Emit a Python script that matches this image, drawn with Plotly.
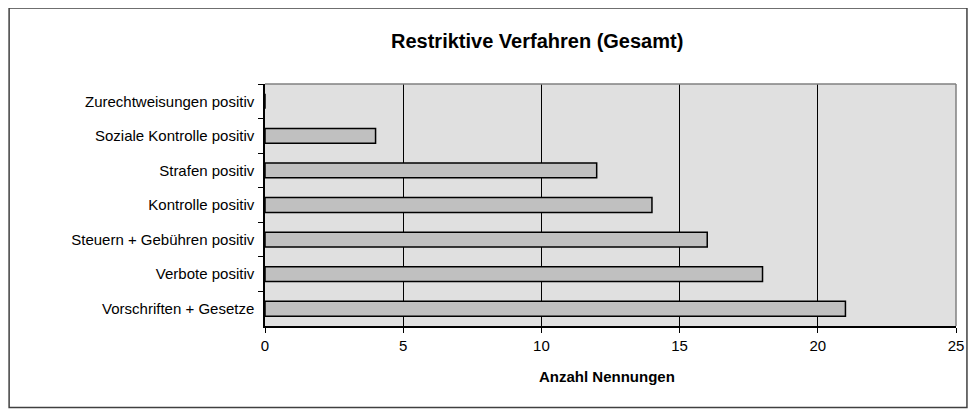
import plotly.graph_objects as go

categories = [
    "Zurechtweisungen positiv",
    "Soziale Kontrolle positiv",
    "Strafen positiv",
    "Kontrolle positiv",
    "Steuern + Gebühren positiv",
    "Verbote positiv",
    "Vorschriften + Gesetze",
]
values = [0, 4, 12, 14, 16, 18, 21]
x_ticks = [0, 5, 10, 15, 20, 25]

title_text = "Restriktive Verfahren (Gesamt)"
x_title = "Anzahl Nennungen"

FONT = "Liberation Sans, Arial, sans-serif"

# page body has an 8px margin; figure coordinates are reference minus 8
OFF = 8
W, H = 968, 406
L, T = 265 - OFF, 84 - OFF
PR, PB = 959 - OFF, 326 - OFF
R, B = W - PR, H - PB
pw = PR - L
ph = PB - T


def px_x(p):
    return (p - OFF - L) / pw


def px_y(p):
    return (PB - (p - OFF)) / ph


fig = go.Figure()
fig.add_trace(go.Bar(
    y=categories,
    x=values,
    orientation="h",
    marker=dict(color="#C0C0C0", line=dict(color="black", width=1.5)),
    hoverinfo="x+y",
))

fig.update_layout(
    width=W, height=H,
    margin=dict(l=L, r=R, t=T, b=B),
    paper_bgcolor="white",
    plot_bgcolor="#E0E0E0",
    font=dict(family=FONT, size=15, color="black"),
    showlegend=False,
    bargap=0.57,
    xaxis=dict(
        range=[0, 25],
        tickvals=x_ticks,
        ticks="outside", ticklen=5, tickcolor="black", tickwidth=1,
        showgrid=True, gridcolor="black", gridwidth=1,
        showline=True, linecolor="black", linewidth=1.5,
        zeroline=False,
        tickfont=dict(size=15),
        fixedrange=True,
    ),
    yaxis=dict(
        categoryorder="array", categoryarray=categories,
        autorange="reversed",
        ticks="outside", ticklen=5, tickcolor="black", tickwidth=1,
        tickson="boundaries",
        showgrid=False,
        showline=True, linecolor="black", linewidth=1.5,
        tickfont=dict(size=15),
        ticklabelstandoff=6,
        fixedrange=True,
    ),
    annotations=[
        dict(text="<b>" + title_text + "</b>", xref="paper", yref="paper",
             x=px_x(538), y=px_y(41), xanchor="center", yanchor="middle",
             showarrow=False, font=dict(size=20, family=FONT, color="black")),
        dict(text="<b>" + x_title + "</b>", xref="paper", yref="paper",
             x=px_x(608), y=px_y(376), xanchor="center", yanchor="middle",
             showarrow=False, font=dict(size=15, family=FONT, color="black")),
    ],
    shapes=[
        dict(type="line", xref="paper", yref="paper", x0=0, x1=1, y0=1, y1=1,
             line=dict(color="#808080", width=1.5), layer="above"),
        dict(type="line", xref="paper", yref="paper", x0=1, x1=1, y0=0, y1=1,
             line=dict(color="#808080", width=1.5), layer="above"),
        dict(type="rect", xref="paper", yref="paper",
             x0=px_x(8), x1=px_x(970), y0=px_y(407.5), y1=px_y(8),
             line=dict(color="#404040", width=1.5), fillcolor="rgba(0,0,0,0)", layer="below"),
    ],
)

fig.write_html("out.html")
